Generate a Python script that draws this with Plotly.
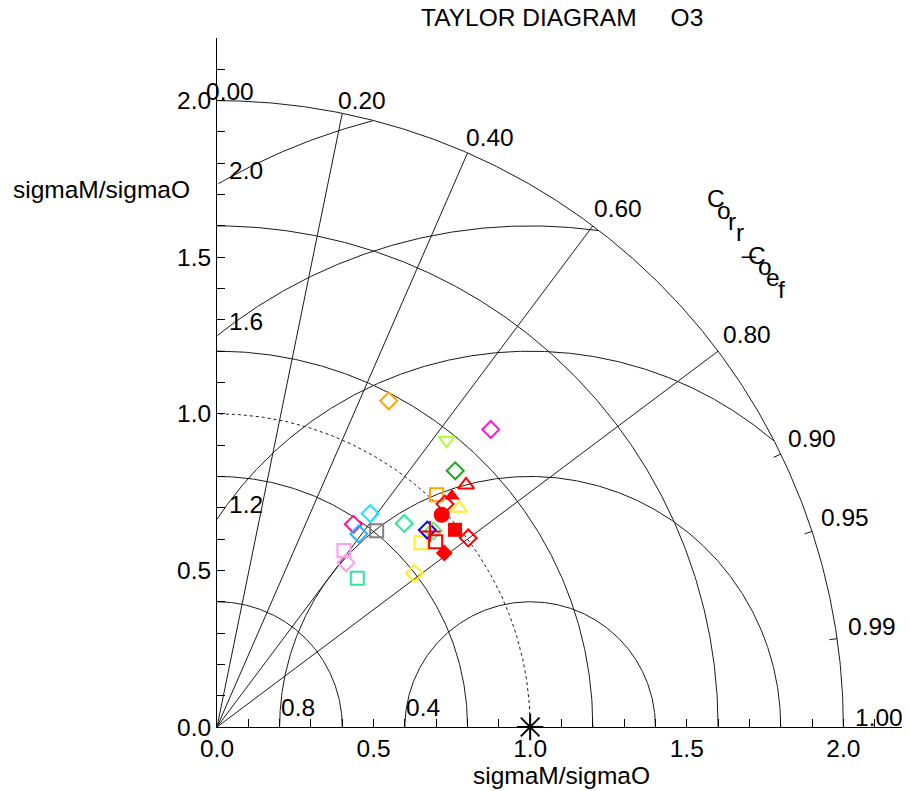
import numpy as np
import plotly.graph_objects as go

# ---------------- data ----------------
# normalised standard deviation (sigmaM/sigmaO) and correlation of each model point
std_ratio = [1.177, 1.291, 1.173, 1.117, 0.883, 0.839, 0.780, 0.765, 0.808,
             0.694, 0.667, 0.653, 0.799, 0.878, 1.042, 1.020, 0.920, 0.932,
             1.109, 1.018, 1.052, 0.987, 0.987, 1.004, 0.915, 0.914, 0.923]
corr = [0.466, 0.677, 0.625, 0.681, 0.677, 0.583, 0.558, 0.592, 0.631,
        0.584, 0.618, 0.686, 0.789, 0.742, 0.742, 0.687, 0.730, 0.741,
        0.717, 0.715, 0.713, 0.727, 0.770, 0.799, 0.763, 0.794, 0.737]

# marker styles (one per point)
marker_symbol = ["diamond-open", "diamond-open", "triangle-down-open", "diamond-open",
                 "diamond-open", "diamond-open", "diamond-open", "diamond-open",
                 "square-open", "square-open", "diamond-open", "square-open",
                 "diamond-open", "square-open", "triangle-up-open", "square-open",
                 "diamond-open", "diamond-open", "triangle-up-open", "diamond-open",
                 "triangle-up", "circle", "square", "diamond-open", "square-open",
                 "diamond", "cross-thin-open"]
marker_color = ["#FFA500", "#FF19D2", "#ADFF2F", "#1FA81F", "#2EE89A", "#1EE6FF",
                "#FF1493", "#1EB4FF", "#808080", "#FF9CF0", "#FF9CF0", "#2EE89A",
                "#FFF01E", "#FFF01E", "#FFF01E", "#FFA500", "#0000FF", "#66EE77",
                "#FF0000", "#FF0000", "#FF0000", "#FF0000", "#FF0000", "#FF0000",
                "#FF0000", "#FF0000", "#FF0000"]
marker_size = [13, 13, 14, 13, 13, 13, 13, 13, 13, 13, 13, 13, 13, 13, 14, 13, 13, 13,
               14, 13, 14, 16, 14, 13, 13, 13, 15]

# reference (observation) point
ref_std = [1.0]
ref_corr = [1.0]

# diagram furniture
corr_ticks = [0.0, 0.2, 0.4, 0.6, 0.8, 0.9, 0.95, 0.99, 1.0]
corr_tick_labels = ["0.00", "0.20", "0.40", "0.60", "0.80", "0.90", "0.95", "0.99", "1.00"]
corr_lines = [0.2, 0.4, 0.6, 0.8]
corr_minor = [0.9, 0.95, 0.99]
std_arcs = [0.4, 0.8, 1.2, 1.6, 2.0]
std_ref_arc = [1.0]
rms_arcs = [0.4, 0.8, 1.2, 1.6, 2.0]
rms_labels = ["0.4", "0.8", "1.2", "1.6", "2.0"]
axis_ticks = [0.0, 0.5, 1.0, 1.5, 2.0]
axis_tick_labels = ["0.0", "0.5", "1.0", "1.5", "2.0"]
title_text = "TAYLOR DIAGRAM\u00a0\u00a0\u00a0\u00a0\u00a0O3"
axis_title = "sigmaM/sigmaO"
corr_title = "Corr_Coef"

R_MAX = 2.0
FONT = "Liberation Sans, Arial, sans-serif"
FS = 24.5
GRID = "#1a1a1a"

fig = go.Figure()


def add_line(x, y, dash="solid", width=1):
    fig.add_trace(go.Scatter(x=x, y=y, mode="lines", hoverinfo="skip",
                             line=dict(color=GRID, width=width, dash=dash),
                             showlegend=False))


th = np.linspace(0, np.pi / 2, 300)
# std-dev arcs centred at origin
for r in std_arcs:
    add_line(r * np.cos(th), r * np.sin(th))
for r in std_ref_arc:
    add_line(r * np.cos(th), r * np.sin(th), dash="dot")

# correlation rays
for c in corr_lines:
    a = np.arccos(c)
    add_line([0, R_MAX * np.cos(a)], [0, R_MAX * np.sin(a)])
# short ticks on outer circle
for c in corr_minor:
    a = np.arccos(c)
    add_line([1.975 * np.cos(a), R_MAX * np.cos(a)], [1.975 * np.sin(a), R_MAX * np.sin(a)])

# RMS arcs centred on reference point (1,0), clipped to the quarter disc
tt = np.linspace(0, np.pi, 800)
for r in rms_arcs:
    xs = 1 + r * np.cos(tt)
    ys = r * np.sin(tt)
    ok = (xs >= 0) & (xs ** 2 + ys ** 2 <= R_MAX ** 2 + 1e-9)
    add_line(xs[ok], ys[ok])

# model points
std_a = np.array(std_ratio)
corr_a = np.array(corr)
ang = np.arccos(corr_a)
px = std_a * np.cos(ang)
py = std_a * np.sin(ang)
for i in range(len(std_ratio)):
    sym = marker_symbol[i]
    is_open = sym.endswith("-open")
    fig.add_trace(go.Scatter(
        x=[px[i]], y=[py[i]], mode="markers", showlegend=False, hoverinfo="skip",
        marker=dict(symbol=sym, size=marker_size[i], color=marker_color[i],
                    line=dict(color=marker_color[i], width=2 if is_open else 0))))

# observation
ra = np.arccos(np.array(ref_corr))
fig.add_trace(go.Scatter(
    x=np.array(ref_std) * np.cos(ra), y=np.array(ref_std) * np.sin(ra),
    mode="markers", showlegend=False, hoverinfo="skip", cliponaxis=False,
    marker=dict(symbol="asterisk-open", size=22, color="black",
                line=dict(color="black", width=2))))

ann = []
txt = dict(family=FONT, size=FS, color="black")
# correlation labels
for c, lab in zip(corr_ticks, corr_tick_labels):
    a = np.arccos(c)
    ann.append(dict(x=R_MAX * np.cos(a), y=R_MAX * np.sin(a), text=lab, showarrow=False,
                    xanchor="left", yanchor="bottom", borderpad=0, font=txt,
                    xshift=11 * np.cos(a) - 8 * np.sin(a) - (4 if c == 0 else 0),
                    yshift=8 * np.sin(2 * a) - 5))
# RMS labels
for r, lab in zip(rms_arcs, rms_labels):
    if r < 1:
        ann.append(dict(x=1 - r, y=0, text=lab, showarrow=False, xanchor="left",
                        yanchor="bottom", borderpad=0, font=txt, yshift=5))
    else:
        ann.append(dict(x=0, y=np.sqrt(r * r - 1), text=lab, showarrow=False,
                        xanchor="left", yanchor="bottom", borderpad=0, font=txt,
                        xshift=11, yshift=0))
# Corr_Coef along a diagonal, upright letters
p0 = np.array([1.593, 1.686])
p1 = np.array([1.801, 1.398])
n = len(corr_title)
for k, ch in enumerate(corr_title):
    p = p0 + (p1 - p0) * k / (n - 1)
    ann.append(dict(x=p[0], y=p[1], text=ch, showarrow=False, xanchor="center",
                    yanchor="middle", borderpad=0, font=txt))
# title
ann.append(dict(xref="paper", yref="paper", x=0.2946, y=1, xanchor="left",
                yanchor="middle", yshift=21, text=title_text, showarrow=False,
                borderpad=0, font=txt))
# y-axis title (horizontal)
ann.append(dict(xref="paper", yref="paper", x=-0.0363, y=0.7794, xanchor="right",
                yanchor="middle", text=axis_title, showarrow=False, font=txt))
fig.update_layout(annotations=ann)

axis_common = dict(range=[0, 2.2], tickvals=axis_ticks, ticktext=axis_tick_labels,
                   ticks="inside", ticklen=8, tickwidth=1, tickcolor="black",
                   showline=True, linecolor="black", linewidth=1,
                   showgrid=False, zeroline=False,
                   tickfont=dict(family=FONT, size=FS, color="black"),
                   minor=dict(dtick=0.1, ticks="inside", ticklen=8, tickwidth=1,
                              tickcolor="black", showgrid=False))
fig.update_xaxes(**axis_common,
                 title=dict(text=axis_title, font=dict(family=FONT, size=FS, color="black"),
                            standoff=0))
fig.update_yaxes(**axis_common)

# page body has an 8px margin: shift the figure so the plot lands where the reference has it
fig.update_layout(width=902, height=783, margin=dict(l=209, r=4, t=30, b=64, autoexpand=False),
                  plot_bgcolor="white", paper_bgcolor="white", showlegend=False,
                  font=dict(family=FONT, size=FS, color="black"))

fig.write_html("out.html")
